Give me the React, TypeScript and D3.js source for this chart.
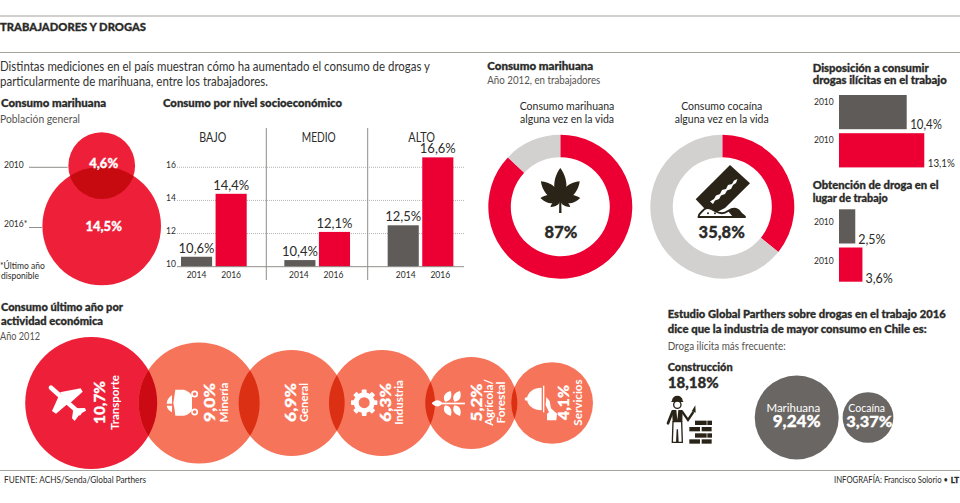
import React from "react";
import * as d3 from "d3";

const W = 960;
const H = 503;

// Consumo marihuana, población general
const vennAnios = ["2010", "2016*"];
const vennValores = [4.6, 14.5];

// Consumo por nivel socioeconómico
const niveles = ["BAJO", "MEDIO", "ALTO"];
const anios = ["2014", "2016"];
const valoresBajo = [10.6, 14.4];
const valoresMedio = [10.4, 12.1];
const valoresAlto = [12.5, 16.6];
const ticksNivel = [10, 12, 14, 16];

// Donas, año 2012
const donaMarihuana = 87;
const donaCocaina = 35.8;

// Barras horizontales
const dispAnios = ["2010", "2010 "];
const dispValores = [10.4, 13.1];
const obtAnios = ["2010", "2010 "];
const obtValores = [2.5, 3.6];

// Consumo último año por actividad económica
const actividades = ["Transporte", "Minería", "General", "Industria", "Agrícola/Forestal", "Servicios"];
const actividadValores = [10.7, 9.0, 6.9, 6.3, 5.2, 4.1];
// en el original Industria tiene el mismo tamaño que General
const actividadTamanos = [10.7, 9.0, 6.9, 6.9, 5.2, 4.1];

// Droga ilícita más frecuente
const drogas = ["Marihuana", "Cocaína"];
const drogaValores = [9.24, 3.37];

const ROJO = "#EC0033";
const ROJO_C = "#EE2039";
const SALMON = "#F6745A";
const GRIS = "#5F5B58";
const GRIS_D = "#D2D1CF";
const NEGRO = "#2A2418";
const TEXTO = "#2B2B29";
const SUAVE = "#55534F";
const REGLA = "#A3A29D";

const pct = (v: number, d = 1) => v.toFixed(d).replace(".", ",") + "%";

type TP = {
  x: number;
  y: number;
  s: number;
  b?: number;
  c?: string;
  a?: "start" | "middle" | "end";
  w?: number;
  r?: boolean;
  children: React.ReactNode;
};

// texto con ancho opcional, r = rotado 90 grados hacia arriba
// el 900 lleva un trazo fino porque la fuente queda más liviana que la original
const T = ({ x, y, s, b = 400, c = TEXTO, a = "start", w, r, children }: TP) => (
  <text
    x={r ? 0 : x}
    y={r ? 0 : y}
    transform={r ? `translate(${x},${y}) rotate(-90)` : undefined}
    fontSize={s}
    fontWeight={b}
    fill={c}
    stroke={b >= 900 ? c : undefined}
    strokeWidth={b >= 900 ? 0.3 : undefined}
    textAnchor={a}
    textLength={w}
    lengthAdjust={w ? "spacingAndGlyphs" : undefined}
  >
    {children}
  </text>
);

const lens = (l: number, w: number) =>
  `M0,0C${w},${-l * 0.3} ${w * 0.6},${-l * 0.75} 0,${-l}C${-w * 0.6},${-l * 0.75} ${-w},${-l * 0.3} 0,0Z`;

const Hoja = () => (
  <g transform="translate(560.3,200)" fill={NEGRO}>
    {[
      [0, 32, 10],
      [46, 27, 9],
      [-46, 27, 9],
      [84, 20, 7],
      [-84, 20, 7],
      [125, 12, 4],
      [-125, 12, 4],
    ].map(([a, l, w]) => (
      <path key={a} d={lens(l, w)} transform={`rotate(${a})`} />
    ))}
    <path d="M-1,0L1,0L1.2,13L-1.2,13Z" />
  </g>
);

const Navaja = () => (
  <g>
    <path d="M695.7,199.3L730,165L750,183.3L725,208L715,213L705,209Z" fill={NEGRO} />
    <path
      d="M710,201.5L714,199L716,195.5L720,194L722,190L726,189L728,185L732,184L734,180.5L737.5,179L736,183L733,185L731,189L727,190.5L725,194L721,195.5L719,199L715,200.5L713,204Z"
      fill="#fff"
    />
    <path
      d="M698.5,217C699,213 702,212 704,209.5C707,207 711,208 715,211C720,214 724,214 728,211C733,208 737,208 740,212C742,215 744,215 745,217Z"
      fill="#fff"
      stroke={NEGRO}
      strokeWidth={2}
      strokeLinejoin="round"
    />
    <path d="M728,211C733,208 737,208 740,212C742,215 744,215 745,217L733,217Z" fill={NEGRO} />
    <circle cx={708} cy={213.3} r={1} fill={NEGRO} />
    <circle cx={715} cy={213.3} r={1} fill={NEGRO} />
  </g>
);

const Avion = () => (
  <g transform="translate(40,375) scale(0.3333)" fill="#fff">
    <line x1={33} y1={38} x2={118} y2={114} stroke="#fff" strokeWidth={14} strokeLinecap="round" />
    <path d="M60,52L122,40L128,50L88,86Z" />
    <path d="M56,64L36,108L48,116L86,84Z" />
    <path d="M102,100L135,99L138,107L114,120Z" />
    <path d="M100,102L96,130L104,138L120,116Z" />
  </g>
);

const Vagon = () => (
  <g transform="translate(0,295) scale(0.3333)" fill="#fff">
    <path d="M526,284L552,284Q572,290 576,304L576,344Q570,358 552,362L526,362Q524,340 520,324Q524,300 526,284Z" />
    <path d="M516,300Q500,312 500,326L516,326Z" />
    <path d="M516,332L500,332Q502,344 516,352Z" />
    <circle cx={584} cy={297} r={8} fill="none" stroke="#fff" strokeWidth={5} />
    <circle cx={584} cy={351} r={8} fill="none" stroke="#fff" strokeWidth={5} />
  </g>
);

const Engranaje = () => (
  <g transform="translate(364.2,402.7)" fill="#fff">
    {d3.range(8).map((i) => (
      <rect key={i} x={-2.4} y={-13.2} width={4.8} height={5} rx={0.8} transform={`rotate(${i * 45})`} />
    ))}
    <circle r={8} fill="none" stroke="#fff" strokeWidth={5} />
  </g>
);

const Planta = () => (
  <g transform="translate(425,375) scale(0.3333)" fill="#fff">
    <rect x={46} y={83} width={74} height={5} />
    <path d={lens(32, 15)} transform="translate(52,85) rotate(-90)" />
    {[
      [60, 80, 28],
      [88, 80, 28],
      [60, 91, 152],
      [88, 91, 152],
    ].map(([x, y, a]) => (
      <path key={`${x}${y}`} d={lens(36, 17)} transform={`translate(${x},${y}) rotate(${a})`} />
    ))}
  </g>
);

const Campana = () => (
  <g transform="translate(425,375) scale(0.3333)" fill="#fff">
    <path d="M350,38A44,34 0 0 0 350,106Z" />
    <circle cx={304} cy={72} r={5} />
    <rect x={354} y={32} width={4} height={80} />
    <path d="M364,66L374,78L378,100L396,116L394,136L366,136L366,116L372,112L362,90Z" />
  </g>
);

const ladrillos = [
  [105, 92, 35],
  [142, 92, 14],
  [88, 111, 32],
  [125, 111, 30],
  [105, 130, 35],
  [142, 130, 14],
  [88, 148, 32],
  [125, 148, 30],
];

const Obrero = () => (
  <g transform="translate(660,390) scale(0.3333)">
    <path d="M36,32A16,15 0 0 1 68,32L71,36L33,36Z" fill={NEGRO} />
    <circle cx={52} cy={44} r={11} fill="#fff" stroke={NEGRO} strokeWidth={4} />
    <path d="M36,60L68,60L67,95L38,95Z" fill={NEGRO} />
    <path d="M49,60L55,60L52,90Z" fill="#fff" />
    <path d="M38,64L24,100" stroke={NEGRO} strokeWidth={8} fill="none" strokeLinecap="round" />
    <path d="M66,64L84,90L100,66" stroke={NEGRO} strokeWidth={7} fill="none" />
    <path d="M95,64L106,46L107,68Z" fill={NEGRO} />
    <path d="M39,95L37,157L50,157L52,118L54,157L67,157L65,95Z" fill="#fff" stroke={NEGRO} strokeWidth={4} />
    {ladrillos.map(([x, y, w]) => (
      <rect key={`${x}${y}`} x={x} y={y} width={w} height={13} fill={NEGRO} />
    ))}
  </g>
);

const donaArc = d3.arc<d3.PieArcDatum<number>>().innerRadius(49.5).outerRadius(72);
const donaPie = d3.pie<number>().sort(null).startAngle(0).endAngle(2 * Math.PI);

const Dona = ({ cx, value }: { cx: number; value: number }) => (
  <g transform={`translate(${cx},206.7)`}>
    {donaPie([value, 100 - value]).map((d, i) => (
      <path key={i} d={donaArc(d) ?? ""} fill={i === 0 ? ROJO : GRIS_D} />
    ))}
  </g>
);

export default function App() {
  // venn
  const vennR = d3.scaleSqrt().domain([0, 14.5]).range([0, 59.3]);
  const vennY = [165.7, 226];
  const vennX = 101.7;

  // barras por nivel
  const y = d3.scaleLinear().domain([10, 16]).range([266.7, 167.3]);
  const panel = d3.scaleBand<string>().domain(niveles).range([181, 491]);
  const barra = d3.scaleBand<string>().domain(anios).range([0, 65.7]).paddingInner(0.1);
  const series = [valoresBajo, valoresMedio, valoresAlto];
  const nivelAjuste = [-1.3, 1.4, 1];
  const nivelAncho = [27, 34, 26.7];
  const anioAjuste = [0, -1, 2.5];

  // barras horizontales
  const hx = d3.scaleLinear().domain([0, 10.4]).range([0, 67.7]);
  const dispY = d3.scaleBand<string>().domain(dispAnios).range([95, 167.4]).paddingInner(0.105);
  const obtY = d3.scaleBand<string>().domain(obtAnios).range([209.3, 281.7]).paddingInner(0.105);
  const dispAncho = [31.7, 27];

  // burbujas por actividad
  const actR = d3.scaleSqrt().domain([0, 10.7]).range([0, 66]);
  const traslape = [18.6, 21, 15.7, 9.7, 6];
  const actCx: number[] = [];
  actividadTamanos.forEach((v, i) => {
    if (i === 0) actCx.push(25.2 + actR(v));
    else actCx.push(actCx[i - 1] + actR(actividadTamanos[i - 1]) + actR(v) - traslape[i - 1]);
  });
  const actY = 403;
  const offValor = [13.8, 15.7, 4.2, 9.5, 10.3, 17];
  const offNombre = [27.5, 29, 16.5, 21.5, 22, 30.3];
  const anchoValor = [43, 39, 39, 39, 38, 35];
  const anchoNombre = [[55], [40], [39], [44.7], [46.7, 42], [46.3]];
  const iconos = [<Avion key="a" />, <Vagon key="v" />, null, <Engranaje key="e" />, <Planta key="p" />, <Campana key="c" />];

  // círculos de drogas
  const drogaR = d3.scaleSqrt().domain([0, 9.24]).range([0, 42]);
  const drogaX = [796.7, 868];

  return (
    <svg
      width={W}
      height={H}
      viewBox={`0 0 ${W} ${H}`}
      style={{ position: "absolute", left: 0, top: 0, background: "#fff" }}
      fontFamily="Lato, 'Open Sans', sans-serif"
    >
      <defs>
        <clipPath id="venn-clip">
          <circle cx={vennX} cy={vennY[0]} r={vennR(vennValores[0])} />
        </clipPath>
        {actividadTamanos.map((v, i) => (
          <clipPath key={i} id={`act-clip-${i}`}>
            <circle cx={actCx[i]} cy={actY} r={actR(v)} />
          </clipPath>
        ))}
      </defs>

      {[16, 52.5, 470.5].map((ry) => (
        <line key={ry} x1={0} x2={W} y1={ry} y2={ry} stroke={REGLA} />
      ))}
      <T x={0} y={30.7} s={12} b={900} w={146}>TRABAJADORES Y DROGAS</T>
      <T x={0} y={71} s={12.5} w={430} c="#333">Distintas mediciones en el país muestran cómo ha aumentado el consumo de drogas y</T>
      <T x={0} y={86} s={12.5} w={268} c="#333">particularmente de marihuana, entre los trabajadores.</T>

      {/* venn */}
      <T x={1} y={107.3} s={11.5} b={900} w={105}>Consumo marihuana</T>
      <T x={0} y={122.7} s={11} c={SUAVE} w={80}>Población general</T>
      {vennValores.map((v, i) => (
        <circle key={i} cx={vennX} cy={vennY[i]} r={vennR(v)} fill={ROJO_C} />
      ))}
      <circle cx={vennX} cy={vennY[1]} r={vennR(vennValores[1])} fill="#C70A10" clipPath="url(#venn-clip)" />
      {vennValores.map((v, i) => (
        <T key={i} x={103.7} y={[168, 231][i]} s={13} b={900} c="#fff" a="middle">{pct(v)}</T>
      ))}
      {vennAnios.map((a, i) => (
        <g key={a}>
          <T x={4} y={[168, 227][i]} s={8.5} c={TEXTO}>{a}</T>
          <line x1={29} x2={[67.7, 42][i]} y1={[167.3, 227.5][i]} y2={[167.3, 227.5][i]} stroke="#8f8e8a" />
        </g>
      ))}
      <T x={0} y={269.3} s={8.5}>*Último año</T>
      <T x={1} y={279.3} s={8.5}>disponible</T>

      {/* nivel socioeconómico */}
      <T x={163} y={107.3} s={11.5} b={900} w={179}>Consumo por nivel socioeconómico</T>
      {ticksNivel.map((t) => (
        <g key={t}>
          <T x={166} y={y(t) + 0.7} s={8.5}>{t}</T>
          {t > 10 && (
            <line x1={177} x2={464} y1={y(t)} y2={y(t)} stroke="#b5b4b0" strokeDasharray="1 1" />
          )}
        </g>
      ))}
      {niveles.map((n, p) => (
        <g key={n}>
          <T x={(panel(n) ?? 0) + 33 + nivelAjuste[p]} y={141.7} s={12.5} a="middle" w={nivelAncho[p]}>{n}</T>
          {series[p].map((v, i) => {
            const bx = (panel(n) ?? 0) + (barra(anios[i]) ?? 0);
            const cx = bx + barra.bandwidth() / 2;
            return (
              <g key={anios[i]}>
                <rect x={bx} y={y(v)} width={barra.bandwidth()} height={y(10) - y(v)} fill={i === 0 ? GRIS : ROJO} />
                <T x={cx} y={y(v) - 4} s={13} a="middle">{pct(v)}</T>
                <T x={cx + anioAjuste[p]} y={277.7} s={8.5} a="middle">{anios[i]}</T>
              </g>
            );
          })}
        </g>
      ))}
      <line x1={177} x2={464} y1={y(10)} y2={y(10)} stroke="#8f8e8a" />
      {[266.3, 367.7].map((dx) => (
        <line key={dx} x1={dx} x2={dx} y1={128} y2={280} stroke="#8f8e8a" />
      ))}

      {/* donas */}
      <T x={487.3} y={70} s={11.5} b={900} w={106}>Consumo marihuana</T>
      <T x={487.3} y={84.3} s={11} c={SUAVE} w={113}>Año 2012, en trabajadores</T>
      <T x={567} y={110} s={10.5} a="middle">Consumo marihuana</T>
      <T x={567} y={123.3} s={10.5} a="middle">alguna vez en la vida</T>
      <T x={721.7} y={110} s={10.5} a="middle">Consumo cocaína</T>
      <T x={721.7} y={123.3} s={10.5} a="middle">alguna vez en la vida</T>
      <Dona cx={560.3} value={donaMarihuana} />
      <Dona cx={722.3} value={donaCocaina} />
      <Hoja />
      <Navaja />
      <T x={561} y={238.3} s={16.5} b={900} a="middle">{donaMarihuana}%</T>
      <T x={721.7} y={238.3} s={16.5} b={900} a="middle">{pct(donaCocaina)}</T>

      {/* barras horizontales */}
      <T x={812.7} y={71.7} s={11} b={900} w={116}>Disposición a consumir</T>
      <T x={812.7} y={84.3} s={11} b={900} w={134}>drogas ilícitas en el trabajo</T>
      {dispValores.map((v, i) => {
        const by = dispY(dispAnios[i]) ?? 0;
        return (
          <g key={i}>
            <rect x={839} y={by} width={hx(v)} height={dispY.bandwidth()} fill={i === 0 ? GRIS : ROJO} />
            <T x={814} y={by + 10} s={8.5}>{dispAnios[i].trim()}</T>
            <T x={839 + hx(v) + 3.5} y={by + dispY.bandwidth()} s={[12.5, 11.5][i]} w={dispAncho[i]}>{pct(v)}</T>
          </g>
        );
      })}
      <T x={812.7} y={189} s={11} b={900} w={126}>Obtención de droga en el</T>
      <T x={812.7} y={201.7} s={11} b={900} w={75}>lugar de trabajo</T>
      {obtValores.map((v, i) => {
        const by = obtY(obtAnios[i]) ?? 0;
        return (
          <g key={i}>
            <rect x={839} y={by} width={hx(v)} height={obtY.bandwidth()} fill={i === 0 ? GRIS : ROJO} />
            <T x={814} y={by + 16} s={8.5}>{obtAnios[i].trim()}</T>
            <T x={839 + hx(v) + 3} y={by + obtY.bandwidth() + 1} s={12.5}>{pct(v)}</T>
          </g>
        );
      })}

      {/* actividades */}
      <T x={1} y={310.7} s={11.5} b={900} w={122}>Consumo último año por</T>
      <T x={1} y={325} s={11.5} b={900} w={102}>actividad económica</T>
      <T x={0} y={339.7} s={11} c={SUAVE} w={40}>Año 2012</T>
      {actividadTamanos.map((v, i) => (
        <circle key={i} cx={actCx[i]} cy={actY} r={actR(v)} fill={i === 0 ? ROJO_C : SALMON} />
      ))}
      {actividadTamanos.slice(1).map((v, i) => (
        <circle
          key={i}
          cx={actCx[i + 1]}
          cy={actY}
          r={actR(v)}
          fill={i === 0 ? "#CC0A14" : "#DC3014"}
          clipPath={`url(#act-clip-${i})`}
        />
      ))}
      {iconos}
      {actividades.map((n, i) => {
        const partes = n.includes("/") ? ["Agrícola/", "Forestal"] : [n];
        return (
          <g key={n}>
            <T x={actCx[i] + offValor[i]} y={actY - 0.5} s={15.5} b={900} c="#fff" a="middle" w={anchoValor[i]} r>{pct(actividadValores[i])}</T>
            {partes.map((p, k) => (
              <T key={p} x={actCx[i] + offNombre[i] + k * 11.7} y={actY - 0.5} s={11} b={700} c="#fff" a="middle" w={anchoNombre[i][k]} r>{p}</T>
            ))}
          </g>
        );
      })}

      {/* estudio */}
      <T x={667.7} y={318.3} s={11} b={900} w={278}>Estudio Global Parthers sobre drogas en el trabajo 2016</T>
      <T x={667.7} y={332.7} s={11} b={900} w={259}>dice que la industria de mayor consumo en Chile es:</T>
      <T x={667.7} y={350} s={10.5} c={SUAVE} w={118}>Droga ilícita más frecuente:</T>
      <T x={667.7} y={371.3} s={11.5} b={900} w={65}>Construcción</T>
      <T x={667.7} y={387.7} s={15} b={900} w={51}>{pct(18.18, 2)}</T>
      <Obrero />
      {drogas.map((d, i) => (
        <g key={d}>
          <circle cx={drogaX[i]} cy={417.5} r={drogaR(drogaValores[i])} fill="#6A6663" />
          <T x={[793.3, 866.7][i]} y={411.7} s={[11.5, 10.5][i]} c="#fff" a="middle">{d}</T>
          <T x={[796.7, 869.3][i]} y={426.5} s={[17, 15.5][i]} b={900} c="#fff" a="middle" w={[48, 46][i]}>{pct(drogaValores[i], 2)}</T>
        </g>
      ))}

      {/* pie */}
      <T x={4} y={482.7} s={8.5} w={142}>FUENTE: ACHS/Senda/Global Parthers</T>
      <T x={834} y={482.7} s={8.5} w={114}>INFOGRAFÍA: Francisco Solorio •</T>
      <T x={959} y={482.7} s={8} b={900} a="end">LT</T>
    </svg>
  );
}
